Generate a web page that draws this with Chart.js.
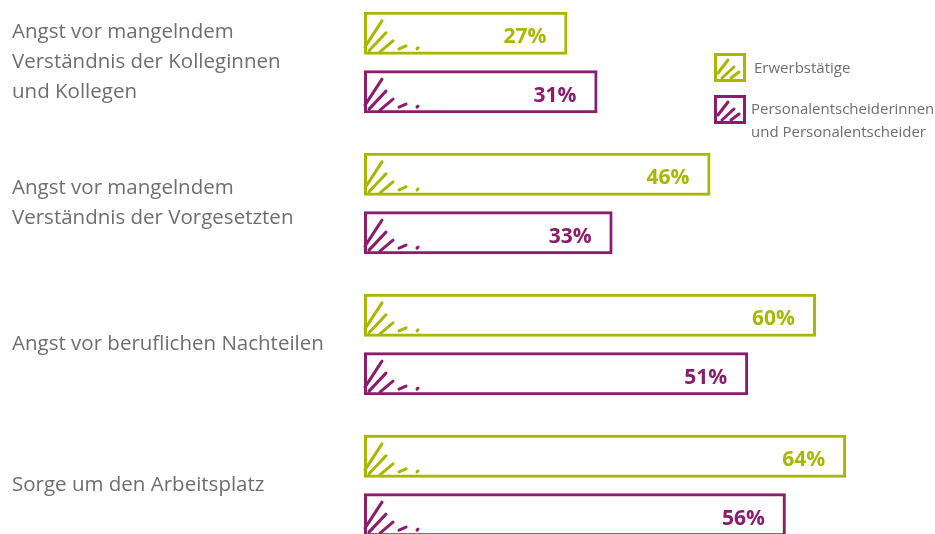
<!DOCTYPE html>
<html>
<head>
<meta charset="utf-8">
<script src="https://cdn.jsdelivr.net/npm/chart.js@4.4.0/dist/chart.umd.min.js"></script>
<style>
  html, body { margin: 0; padding: 0; background: #fff; overflow: hidden; width: 935px; height: 534px; }
  #wrap { position: absolute; left: 0; top: -8px; width: 935px; height: 564px; }
</style>
</head>
<body>
<div id="wrap"><canvas id="grafik"></canvas></div>
<script>
// Kategorien (mehrzeilige Beschriftung)
const kategorien = [
  ['Angst vor mangelndem', 'Verständnis der Kolleginnen', 'und Kollegen'],
  ['Angst vor mangelndem', 'Verständnis der Vorgesetzten'],
  ['Angst vor beruflichen Nachteilen'],
  ['Sorge um den Arbeitsplatz']
];
// Werte in Prozent
const erwerbstaetige = [27, 46, 60, 64];
const personaler = [31, 33, 51, 56];
// Legendentexte
const legendeErwerb = ['Erwerbstätige'];
const legendePersonal = ['Personalentscheiderinnen', 'und Personalentscheider'];

const gruen = '#a8b800';
const lila = '#8c1c6c';
const grau = '#6e6e6e';
const versatz = 8; // canvas beginnt 8px oberhalb der Seite

// kleine Schraffur unten links, wie von Hand gezeichnet
function schraffur(ctx, l, b, farbe, s) {
  const striche = [
    [1, -7, 18, -33],
    [5, -3, 22, -21],
    [16, -2, 29, -13],
    [35, -5, 42, -8],
    [53, -5, 54, -6]
  ];
  ctx.save();
  ctx.strokeStyle = farbe;
  ctx.lineWidth = 3;
  ctx.lineCap = 'round';
  striche.forEach(st => {
    ctx.beginPath();
    ctx.moveTo(l + st[0] * s, b + st[1] * s);
    ctx.lineTo(l + st[2] * s, b + st[3] * s);
    ctx.stroke();
  });
  ctx.restore();
}

const extras = {
  id: 'extras',
  afterDatasetsDraw(chart) {
    const ctx = chart.ctx;
    chart.data.datasets.forEach((ds, i) => {
      const meta = chart.getDatasetMeta(i);
      meta.data.forEach((bar, j) => {
        const unten = bar.y + bar.height / 2;
        schraffur(ctx, bar.base, unten - 1, ds.borderColor, 1);
        ctx.save();
        ctx.fillStyle = ds.borderColor;
        ctx.font = 'bold 21px "Open Sans"';
        ctx.textAlign = 'right';
        ctx.textBaseline = 'middle';
        ctx.fillText(ds.data[j] + '%', bar.x - 21, bar.y + 4);
        ctx.restore();
      });
    });

    // Legende
    const eintraege = [
      { farbe: gruen, text: legendeErwerb, box: [714, 53], tx: 754, ty: [69] },
      { farbe: lila, text: legendePersonal, box: [714, 95], tx: 751, ty: [110, 133] }
    ];
    eintraege.forEach(e => {
      const x = e.box[0], y = e.box[1] + versatz;
      ctx.save();
      ctx.strokeStyle = e.farbe;
      ctx.lineWidth = 3;
      ctx.strokeRect(x + 1.5, y + 1.5, 29, 26);
      ctx.lineCap = 'round';
      [[4, 20, 14, 7], [8, 25, 20, 14], [17, 25, 25, 19]].forEach(st => {
        ctx.beginPath();
        ctx.moveTo(x + st[0], y + st[1]);
        ctx.lineTo(x + st[2], y + st[3]);
        ctx.stroke();
      });
      ctx.fillStyle = grau;
      ctx.font = '15px "Open Sans"';
      ctx.textAlign = 'left';
      ctx.textBaseline = 'middle';
      e.text.forEach((zeile, k) => ctx.fillText(zeile, e.tx, e.ty[k] + versatz));
      ctx.restore();
    });
  }
};

new Chart(document.querySelector('#grafik'), {
  type: 'bar',
  data: {
    labels: kategorien,
    datasets: [
      {
        label: legendeErwerb.join(' '),
        data: erwerbstaetige,
        backgroundColor: 'rgba(255,255,255,0)',
        borderColor: gruen,
        borderWidth: 3,
        borderSkipped: false
      },
      {
        label: legendePersonal.join(' '),
        data: personaler,
        backgroundColor: 'rgba(255,255,255,0)',
        borderColor: lila,
        borderWidth: 3,
        borderSkipped: false
      }
    ]
  },
  options: {
    indexAxis: 'y',
    responsive: true,
    maintainAspectRatio: false,
    animation: false,
    categoryPercentage: 0.827,
    barPercentage: 0.737,
    layout: { padding: { left: 12, right: 0, top: 0, bottom: 0 } },
    plugins: {
      legend: { display: false },
      tooltip: { enabled: false }
    },
    scales: {
      x: {
        display: false,
        min: 0,
        max: 75.8
      },
      y: {
        grid: { display: false },
        border: { display: false },
        afterFit(scale) {
          scale.width = 352;
          scale.paddingTop = 0;
          scale.paddingBottom = 0;
        },
        ticks: {
          crossAlign: 'far',
          color: grau,
          padding: 0,
          font: { family: '"Open Sans"', size: 20.5, lineHeight: 1.46 }
        }
      }
    }
  },
  plugins: [extras]
});
</script>
</body>
</html>
